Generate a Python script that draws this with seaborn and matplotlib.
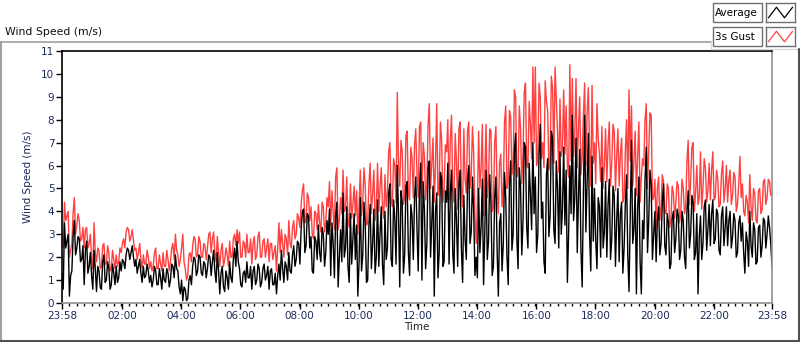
import numpy as np
import pandas as pd
import matplotlib
matplotlib.use("Agg")
import matplotlib.pyplot as plt
from matplotlib.lines import Line2D
from matplotlib.patches import Rectangle
import seaborn as sns

# 2.5-minute samples starting at 23:58, one row per hour (last value = 23:58 next day)
average = [
    1.3, 0.6, 3.5, 2.4, 2.7, 3.0, 0.3, 1.2, 1.4, 2.9, 3.6, 2.1, 2.4, 2.9, 2.8, 1.8, 1.9, 2.5, 0.8, 2.3, 2.7, 1.3, 1.6, 2.2,
    1.2, 0.6, 2.3, 1.5, 0.5, 1.6, 1.4, 0.7, 0.6, 1.8, 2.1, 0.9, 1.0, 1.8, 1.5, 0.6, 0.8, 1.7, 1.3, 0.8, 1.6, 0.9, 1.1, 1.8,
    1.4, 1.9, 1.8, 1.5, 2.1, 2.4, 2.3, 1.9, 2.2, 2.5, 2.0, 1.6, 1.9, 1.3, 1.6, 1.9, 1.3, 0.9, 1.6, 1.1, 1.2, 1.7, 1.4, 0.9,
    1.2, 0.7, 1.0, 1.6, 1.4, 0.8, 0.8, 1.5, 1.1, 0.6, 1.5, 1.0, 0.9, 1.5, 1.3, 0.7, 1.0, 1.7, 1.6, 1.1, 2.1, 1.5, 1.4, 0.7,
    0.4, 1.0, 0.1, 0.7, 0.6, 0.1, 0.2, 1.0, 1.2, 0.8, 1.6, 2.0, 1.9, 1.2, 1.4, 2.1, 2.0, 1.3, 1.2, 1.8, 1.7, 1.1, 1.5, 2.1,
    2.0, 1.2, 1.8, 2.3, 1.4, 0.9, 2.2, 1.4, 0.4, 1.3, 1.6, 0.7, 0.5, 1.4, 1.1, 0.6, 1.8, 1.1, 0.9, 1.9, 2.4, 1.6, 2.7, 1.8,
    1.5, 0.8, 0.7, 1.3, 1.4, 0.9, 1.8, 1.1, 1.1, 1.6, 0.6, 1.4, 1.6, 0.8, 1.0, 1.7, 1.5, 0.7, 0.9, 1.5, 1.7, 1.0, 1.2, 1.6,
    0.6, 1.4, 1.5, 0.8, 0.8, 1.3, 0.4, 1.2, 1.7, 1.0, 2.3, 1.5, 0.9, 1.8, 1.6, 1.0, 2.2, 1.4, 1.3, 2.1, 2.5, 1.6, 1.9, 2.7,
    2.6, 1.7, 3.2, 4.0, 4.1, 2.2, 2.5, 3.9, 3.8, 2.4, 2.9, 1.4, 1.3, 2.9, 2.7, 1.9, 3.4, 2.2, 1.8, 3.3, 3.0, 1.6, 2.2, 3.6,
    3.0, 4.1, 1.2, 3.5, 2.6, 1.1, 3.8, 4.4, 0.7, 1.9, 3.2, 1.8, 4.8, 2.0, 2.4, 4.2, 1.6, 0.9, 3.9, 1.7, 2.8, 3.9, 1.9, 3.4,
    0.3, 1.8, 4.6, 1.4, 2.1, 4.4, 3.5, 0.9, 1.0, 3.4, 4.3, 1.5, 2.6, 4.1, 1.3, 2.0, 4.5, 1.6, 3.0, 4.2, 1.7, 0.8, 4.0, 1.9,
    2.4, 4.8, 5.2, 1.9, 1.6, 4.5, 3.7, 1.7, 6.0, 3.9, 0.7, 4.9, 4.4, 1.3, 2.1, 5.1, 5.3, 2.2, 1.2, 4.3, 3.8, 1.9, 4.6, 5.5,
    3.2, 1.4, 5.0, 6.1, 1.0, 5.3, 4.1, 1.5, 2.6, 5.9, 6.2, 2.0, 3.5, 5.1, 0.3, 4.0, 4.8, 1.1, 2.2, 5.7, 5.4, 1.6, 1.8, 4.9,
    4.4, 6.1, 1.7, 4.8, 5.8, 2.2, 1.3, 5.0, 3.6, 1.6, 5.2, 5.8, 2.4, 0.9, 4.7, 2.8, 1.9, 5.3, 6.0, 2.6, 3.1, 5.5, 4.0, 1.2,
    2.0, 1.1, 5.0, 2.2, 3.3, 5.4, 0.8, 3.1, 5.8, 1.9, 2.7, 5.6, 4.3, 1.2, 1.6, 4.6, 5.5, 2.3, 0.3, 3.5, 3.9, 1.4, 2.6, 5.7,
    4.6, 2.0, 0.8, 5.2, 6.2, 2.3, 3.0, 6.6, 7.4, 2.8, 1.5, 5.9, 5.1, 2.1, 3.6, 7.0, 6.8, 3.3, 2.4, 6.1, 4.8, 3.2, 7.0, 3.9,
    5.5, 2.2, 3.0, 6.5, 7.8, 3.7, 4.4, 1.8, 1.3, 5.6, 6.3, 2.9, 3.8, 7.5, 7.2, 3.2, 2.6, 6.2, 5.0, 2.4, 6.6, 3.0, 4.1, 6.8,
    3.4, 5.8, 0.9, 3.0, 6.0, 3.9, 8.2, 3.6, 4.6, 7.2, 2.2, 4.6, 6.7, 2.3, 0.7, 4.8, 8.2, 3.1, 5.3, 7.4, 3.0, 1.4, 6.4, 2.7,
    5.0, 2.7, 1.5, 4.6, 4.2, 2.0, 5.9, 2.4, 3.1, 5.3, 2.0, 4.3, 5.4, 1.9, 2.8, 5.1, 4.7, 1.6, 3.6, 5.0, 1.8, 3.9, 4.4, 1.3,
    2.4, 4.3, 5.6, 2.1, 0.5, 3.8, 7.1, 2.6, 3.2, 5.0, 0.4, 4.1, 5.5, 1.8, 0.4, 3.6, 2.8, 5.4, 6.8, 2.2, 3.6, 5.8, 5.2, 1.9,
    3.0, 4.0, 1.8, 3.6, 4.2, 2.1, 2.6, 4.4, 5.2, 2.5, 2.1, 3.9, 3.5, 1.5, 1.7, 3.7, 4.0, 2.2, 2.8, 4.1, 3.8, 1.9, 2.3, 4.0,
    3.6, 2.0, 1.5, 4.0, 4.9, 2.4, 3.0, 4.7, 4.4, 1.9, 2.2, 3.9, 0.4, 2.9, 3.8, 1.9, 2.6, 4.2, 4.5, 2.3, 3.2, 4.3, 2.5, 3.9,
    4.5, 2.6, 2.8, 4.1, 3.9, 2.3, 2.1, 3.8, 4.2, 2.5, 3.3, 4.2, 2.5, 3.6, 4.0, 2.4, 2.9, 3.9, 3.6, 2.0, 2.2, 3.5, 3.8, 2.7,
    3.5, 2.2, 1.3, 3.1, 2.7, 1.6, 4.0, 2.5, 2.0, 3.5, 3.2, 1.7, 1.8, 3.3, 3.4, 2.0, 2.5, 3.7, 3.6, 2.4, 3.0, 3.8, 3.3, 2.6,
    1.6,
]

gust = [
    3.0, 2.4, 4.4, 3.6, 3.8, 4.0, 2.0, 2.3, 2.6, 3.9, 4.6, 3.0, 3.4, 3.9, 3.6, 2.7, 2.8, 3.3, 2.4, 3.2, 3.3, 2.4, 2.6, 3.0,
    1.9, 1.5, 3.5, 2.2, 1.8, 2.4, 2.3, 1.5, 1.6, 2.5, 2.6, 1.7, 1.7, 2.5, 2.2, 1.4, 1.5, 2.3, 1.9, 1.5, 2.1, 1.6, 1.8, 2.4,
    2.2, 2.6, 2.8, 2.4, 3.1, 3.3, 3.2, 2.7, 2.9, 3.2, 2.7, 2.3, 2.4, 1.9, 2.2, 2.6, 1.9, 1.5, 2.1, 1.7, 1.7, 2.3, 2.0, 1.5,
    1.8, 1.4, 1.6, 2.2, 2.4, 1.5, 1.5, 2.1, 1.7, 1.4, 2.2, 1.6, 1.6, 2.3, 1.9, 1.4, 1.8, 2.4, 2.6, 1.9, 3.0, 2.3, 2.1, 1.6,
    1.9, 2.4, 3.0, 1.8, 1.5, 1.0, 1.2, 2.1, 2.2, 1.8, 2.5, 2.9, 2.8, 2.0, 2.1, 2.9, 2.7, 2.0, 2.0, 2.6, 2.5, 1.9, 2.4, 3.0,
    3.1, 2.2, 2.8, 3.1, 2.2, 1.8, 2.9, 2.2, 1.6, 2.3, 2.6, 1.6, 1.9, 2.4, 2.1, 1.6, 2.7, 2.0, 2.0, 2.8, 3.0, 2.5, 3.2, 2.6,
    3.1, 2.0, 2.0, 2.7, 2.6, 2.0, 3.0, 2.2, 2.2, 2.8, 1.7, 2.6, 2.9, 1.9, 2.1, 2.9, 3.1, 2.0, 2.0, 2.7, 2.8, 2.0, 2.4, 2.8,
    1.8, 2.6, 2.6, 1.9, 2.2, 2.5, 1.4, 2.4, 3.5, 2.2, 3.2, 2.6, 2.0, 3.0, 2.8, 2.1, 3.6, 2.6, 2.4, 3.3, 3.6, 2.8, 3.0, 3.9,
    3.7, 3.3, 4.3, 4.9, 5.2, 3.5, 3.6, 4.8, 4.6, 3.6, 4.2, 3.0, 2.8, 4.0, 3.9, 3.2, 4.3, 3.5, 3.1, 4.4, 4.2, 3.1, 3.5, 4.6,
    4.2, 5.3, 3.4, 4.9, 3.9, 3.2, 5.5, 5.9, 3.2, 3.6, 4.6, 3.9, 5.8, 4.0, 4.1, 5.5, 3.6, 3.3, 5.2, 3.7, 4.3, 5.1, 3.8, 4.9,
    3.0, 4.2, 5.8, 3.8, 4.4, 5.9, 5.1, 3.4, 3.5, 5.2, 6.1, 3.9, 4.8, 5.8, 3.6, 4.1, 6.1, 4.0, 5.0, 5.9, 4.2, 3.7, 5.6, 4.2,
    4.8, 6.6, 7.0, 4.5, 4.2, 6.3, 6.0, 4.4, 9.2, 6.0, 5.1, 7.1, 6.6, 4.3, 4.6, 7.3, 7.5, 4.8, 4.5, 6.8, 6.3, 4.6, 6.9, 7.6,
    5.6, 4.6, 7.7, 7.9, 4.6, 7.0, 6.4, 4.5, 5.2, 7.8, 8.7, 5.0, 6.1, 7.2, 4.4, 6.0, 8.7, 4.7, 5.0, 7.9, 7.1, 4.4, 4.9, 6.9,
    6.6, 8.0, 4.5, 7.1, 8.2, 4.9, 4.4, 7.4, 6.2, 4.1, 7.6, 7.9, 5.0, 4.2, 7.6, 5.4, 4.8, 7.5, 7.9, 5.0, 5.6, 7.7, 6.5, 3.8,
    2.6, 4.4, 7.5, 5.0, 5.9, 7.8, 3.8, 5.5, 7.8, 4.6, 5.3, 7.6, 7.5, 4.0, 4.2, 7.0, 7.7, 4.8, 3.9, 6.1, 6.5, 4.2, 5.0, 7.9,
    8.6, 5.0, 5.3, 8.4, 8.1, 5.6, 6.0, 9.3, 9.0, 5.5, 5.6, 8.6, 7.6, 5.2, 6.5, 9.2, 9.6, 6.0, 5.9, 8.8, 7.8, 6.3, 10.3, 7.0,
    10.3, 6.0, 6.4, 9.6, 9.0, 6.3, 7.0, 5.9, 9.7, 8.8, 8.4, 5.8, 6.2, 9.9, 9.4, 6.1, 10.3, 8.9, 7.5, 5.7, 8.9, 6.4, 6.8, 9.3,
    6.5, 8.6, 6.0, 5.5, 10.4, 6.2, 9.8, 6.4, 7.4, 9.8, 5.9, 7.6, 9.0, 5.6, 6.4, 8.2, 9.6, 6.0, 8.3, 9.4, 6.8, 5.1, 9.5, 6.1,
    7.0, 5.2, 8.7, 7.2, 6.5, 5.3, 7.7, 5.0, 6.0, 7.6, 5.3, 6.9, 7.9, 5.1, 6.1, 7.8, 7.5, 4.9, 6.4, 7.6, 5.1, 6.5, 7.2, 4.4,
    4.6, 6.6, 8.0, 5.0, 9.3, 6.2, 8.6, 5.1, 6.2, 7.5, 4.7, 6.4, 7.9, 4.4, 5.5, 6.3, 6.0, 8.0, 8.7, 5.0, 6.7, 8.3, 8.2, 4.5,
    4.6, 5.4, 3.2, 5.0, 5.5, 3.6, 4.2, 5.6, 5.3, 4.0, 3.9, 5.2, 5.0, 3.3, 3.6, 5.1, 4.8, 3.7, 4.4, 5.3, 5.1, 3.5, 3.9, 5.4,
    5.0, 3.9, 4.2, 6.2, 7.1, 4.3, 5.3, 6.8, 7.0, 4.0, 4.8, 6.0, 4.3, 4.6, 6.6, 4.1, 5.0, 6.3, 5.9, 4.4, 4.9, 6.1, 4.5, 5.8,
    6.6, 4.5, 4.6, 5.8, 5.4, 4.2, 4.3, 5.6, 6.2, 4.4, 5.0, 6.0, 4.4, 5.4, 5.8, 4.3, 4.7, 5.7, 5.5, 4.0, 4.3, 5.2, 6.4, 4.6,
    5.2, 4.0, 3.8, 4.7, 4.4, 3.5, 5.6, 4.2, 3.6, 5.0, 4.8, 3.6, 3.5, 4.9, 5.0, 3.9, 4.1, 5.3, 5.4, 4.3, 4.6, 5.4, 5.3, 4.7,
    4.8,
]

tick_minutes = [0, 122, 242, 362, 482, 602, 722, 842, 962, 1082, 1202, 1322, 1440]
tick_labels = ["23:58", "02:00", "04:00", "06:00", "08:00", "10:00", "12:00",
               "14:00", "16:00", "18:00", "20:00", "22:00", "23:58"]

minutes = np.arange(len(average)) * 2.5
df = pd.DataFrame({"minute": minutes, "Average": average, "3s Gust": gust})

sns.set_style("white")
plt.rcParams["font.family"] = ["DejaVu Sans"]

navy = "#1c2a5a"
red = "#ff4040"

fig = plt.figure(figsize=(8, 3.42), dpi=100)
fig.patch.set_facecolor("white")
ax = fig.add_axes([62 / 800, 1 - 303 / 342, 710 / 800, 252 / 342])

sns.lineplot(data=df, x="minute", y="3s Gust", color=red, lw=1.0, ax=ax)
sns.lineplot(data=df, x="minute", y="Average", color="black", lw=1.0, ax=ax)

ax.set_xlim(0, 1440)
ax.set_ylim(0, 11)
ax.set_yticks(range(0, 12))
ax.set_xticks(tick_minutes)
ax.set_xticklabels(tick_labels)
ax.set_xticks(np.arange(0, 1441, 15), minor=True)
ax.tick_params(axis="both", which="major", direction="out", length=4, width=1,
               color="black", labelsize=7.5, labelcolor=navy, pad=1.5)
ax.tick_params(axis="x", which="minor", direction="out", length=2.5, width=1, color="black")
ax.tick_params(left=True, bottom=True)
ax.tick_params(axis="x", which="minor", bottom=True)
ax.set_ylabel("Wind Speed (m/s)", fontsize=7.5, color=navy, labelpad=6)
ax.set_xlabel("Time", fontsize=7.5, color="#222222", labelpad=1)

for side in ["left", "top"]:
    ax.spines[side].set_color("black")
    ax.spines[side].set_linewidth(1.2)
for side in ["bottom", "right"]:
    ax.spines[side].set_color("#909090")
    ax.spines[side].set_linewidth(1.2)

fig.text(5 / 800, 1 - 32 / 342, "Wind Speed (m/s)", fontsize=7.8, color="#111111",
         ha="left", va="center")

# outer panel frame
frame = "#a0a0a0"
fig.add_artist(Line2D([0, 711 / 800], [1 - 42 / 342] * 2, color=frame, lw=1.2))
fig.add_artist(Line2D([711 / 800] * 2, [1 - 42 / 342, 1 - 49 / 342], color="#d8d8d8", lw=1))
fig.add_artist(Line2D([711 / 800, 1], [1 - 49 / 342] * 2, color="#d8d8d8", lw=1))
fig.add_artist(Line2D([0.6 / 800] * 2, [1 - 42 / 342, 0], color=frame, lw=1.5))
fig.add_artist(Line2D([0, 1], [0.8 / 342] * 2, color="#505050", lw=1.5))
fig.add_artist(Line2D([799.4 / 800] * 2, [1 - 49 / 342, 0], color="#505050", lw=1.5))

# legend boxes
for i, (name, col) in enumerate([("Average", "black"), ("3s Gust", red)]):
    top = 3 + i * 24
    fig.add_artist(Rectangle((713 / 800, 1 - (top + 19) / 342), 49 / 800, 19 / 342,
                             transform=fig.transFigure, facecolor="white",
                             edgecolor="#707070", lw=1))
    fig.text(715 / 800, 1 - (top + 9.5) / 342, name, fontsize=7.5, color="black",
             ha="left", va="center")
    sw = fig.add_axes([766 / 800, 1 - (top + 19) / 342, 29 / 800, 19 / 342])
    sw.plot([0, 1, 2, 3], [0, 1, 0, 1], color=col, lw=0.9)
    sw.set_xlim(-0.3, 3.3)
    sw.set_ylim(-0.4, 1.4)
    sw.set_xticks([])
    sw.set_yticks([])
    for s in sw.spines.values():
        s.set_color("#707070")
        s.set_linewidth(1)

fig.savefig("out.png", dpi=100, facecolor="white")
